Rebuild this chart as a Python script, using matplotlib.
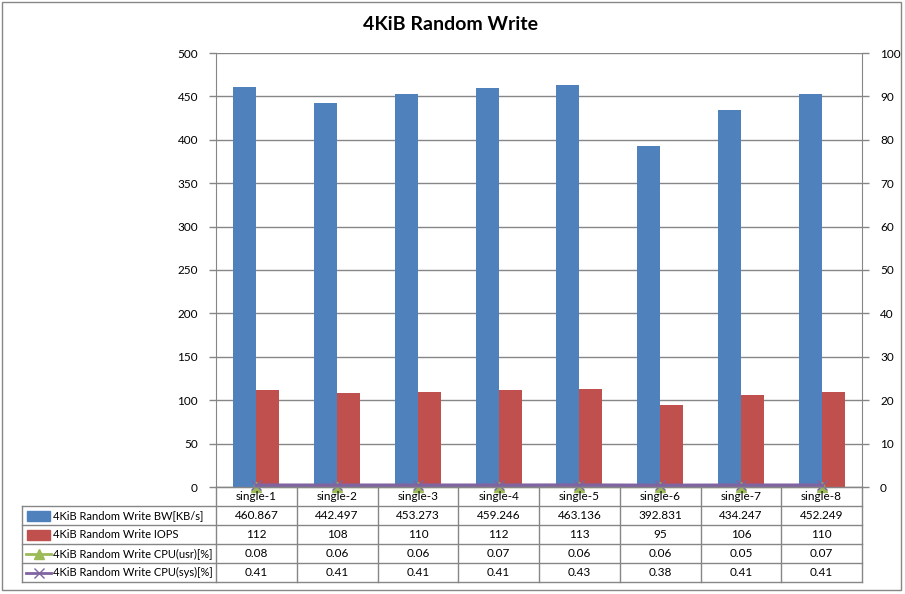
import matplotlib
matplotlib.use("Agg")
import matplotlib.pyplot as plt
import matplotlib.transforms as mtransforms
from matplotlib.lines import Line2D
from matplotlib.patches import Rectangle
import numpy as np

plt.rcParams['font.family'] = ['Lato', 'DejaVu Sans']

categories = ["single-1", "single-2", "single-3", "single-4", "single-5", "single-6", "single-7", "single-8"]
bw = [460.867, 442.497, 453.273, 459.246, 463.136, 392.831, 434.247, 452.249]
iops = [112, 108, 110, 112, 113, 95, 106, 110]
cpu_usr = [0.08, 0.06, 0.06, 0.07, 0.06, 0.06, 0.05, 0.07]
cpu_sys = [0.41, 0.41, 0.41, 0.41, 0.43, 0.38, 0.41, 0.41]
bw_labels = ["460.867", "442.497", "453.273", "459.246", "463.136", "392.831", "434.247", "452.249"]
iops_labels = [str(v) for v in iops]
usr_labels = ["0.08", "0.06", "0.06", "0.07", "0.06", "0.06", "0.05", "0.07"]
sys_labels = ["0.41", "0.41", "0.41", "0.41", "0.43", "0.38", "0.41", "0.41"]
series_names = ["4KiB Random Write BW[KB/s]", "4KiB Random Write IOPS",
                "4KiB Random Write CPU(usr)[%]", "4KiB Random Write CPU(sys)[%]"]

BLUE = "#4F81BD"
RED = "#C0504D"
GREEN = "#9BBB59"
PURPLE = "#8064A2"
GRID = "#868686"

W, H = 905, 594
fig = plt.figure(figsize=(W / 100, H / 100), dpi=100)

def fx(px):
    return px / W

def fy(py):
    return 1 - py / H

L, R, T, B = 216, 862, 53, 487
ax = fig.add_axes([fx(L), fy(B), fx(R) - fx(L), fy(T) - fy(B)])
ax2 = ax.twinx()

x = np.arange(len(categories))
bwid = 0.285
ax.bar(x - bwid / 2, bw, width=bwid, color=BLUE, zorder=3)
ax.bar(x + bwid / 2, iops, width=bwid, color=RED, zorder=3)
ax.set_xlim(-0.5, len(categories) - 0.5)
ax.set_ylim(0, 500)
ax.set_yticks(np.arange(0, 501, 50))
ax.yaxis.grid(True, color=GRID, linewidth=1)
ax.set_axisbelow(True)
ax.set_xticks([])

ax2.plot(x, cpu_usr, color=GREEN, marker="^", markersize=7, linewidth=2, zorder=4, clip_on=False)
ax2.plot(x, cpu_sys, color=PURPLE, marker="x", markersize=7, linewidth=2.5, zorder=5, clip_on=False)
ax2.set_ylim(0, 100)
ax2.set_yticks(np.arange(0, 101, 10))
ax2.set_xlim(-0.5, len(categories) - 0.5)

for a in (ax, ax2):
    for s in a.spines.values():
        s.set_visible(False)
    a.tick_params(axis="y", length=5, width=1, color=GRID, labelsize=8.5, pad=8)
    a.tick_params(axis="x", length=0)
ax.spines["left"].set_visible(True)
ax.spines["left"].set_color(GRID)
ax2.spines["right"].set_visible(True)
ax2.spines["right"].set_color(GRID)
ax.spines["bottom"].set_visible(True)
ax.spines["bottom"].set_color(GRID)

# Data table
trans = mtransforms.blended_transform_factory(ax.transData, fig.transFigure)
row_lines = [487, 506, 525, 544, 563, 582]
tab_left = 22
lc = GRID
for i, yl in enumerate(row_lines):
    x0 = fx(L) if i == 0 else fx(tab_left)
    fig.add_artist(Line2D([x0, fx(R)], [fy(yl), fy(yl)], color=lc, linewidth=1, zorder=1))
fig.add_artist(Line2D([fx(tab_left), fx(tab_left)], [fy(506), fy(582)], color=lc, linewidth=1))
for b in np.arange(-0.5, len(categories), 1.0):
    fig.add_artist(Line2D([b, b], [fy(487), fy(582)], color=lc, linewidth=1, transform=trans, zorder=1))

rows = [categories, bw_labels, iops_labels, usr_labels, sys_labels]
for r, labels in enumerate(rows):
    yc = (row_lines[r] + row_lines[r + 1]) / 2
    for i, lab in enumerate(labels):
        fig.text(x[i], fy(yc), lab, transform=trans, ha="center", va="center", fontsize=8.5)

for r in range(4):
    yc = (row_lines[r + 1] + row_lines[r + 2]) / 2
    if r == 0:
        fig.add_artist(Rectangle((fx(27), fy(yc + 5)), fx(23), fy(yc - 5) - fy(yc + 5), color=BLUE))
    elif r == 1:
        fig.add_artist(Rectangle((fx(27), fy(yc + 5)), fx(23), fy(yc - 5) - fy(yc + 5), color=RED))
    elif r == 2:
        fig.add_artist(Line2D([fx(26), fx(51)], [fy(yc), fy(yc)], color=GREEN, linewidth=2))
        fig.add_artist(Line2D([fx(38.5)], [fy(yc)], color=GREEN, marker="^", markersize=7, linestyle="none"))
    else:
        fig.add_artist(Line2D([fx(26), fx(51)], [fy(yc), fy(yc)], color=PURPLE, linewidth=2))
        fig.add_artist(Line2D([fx(38.5)], [fy(yc)], color=PURPLE, marker="x", markersize=7, linestyle="none"))
    fig.text(fx(53), fy(yc), series_names[r], ha="left", va="center", fontsize=8)

fig.text(fx(450), fy(25), "4KiB Random Write", ha="center", va="center", fontsize=14, fontweight="bold")

fig.add_artist(Rectangle((fx(2), fy(590)), fx(899), fy(2) - fy(590), fill=False, edgecolor=GRID, linewidth=1))

fig.savefig("out.png", dpi=100)
